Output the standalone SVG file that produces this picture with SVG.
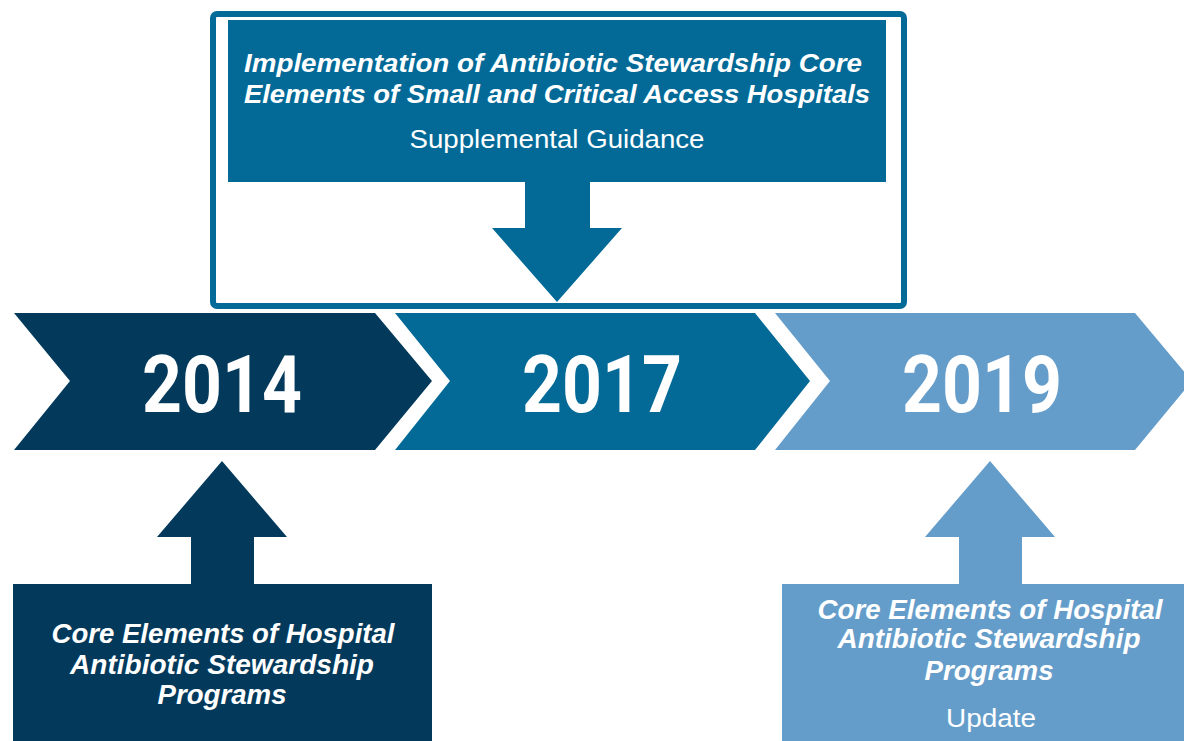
<svg xmlns="http://www.w3.org/2000/svg" width="1184" height="741" viewBox="0 0 1184 741">
  <style>
    .year { font-family: Roboto, "Liberation Sans", sans-serif; font-weight: 700; font-size: 80px; fill: #ffffff; text-anchor: middle; }
    .title { font-family: "Liberation Sans", Arial, sans-serif; font-weight: 700; font-style: italic; font-size: 26px; fill: #ffffff; text-anchor: middle; }
    .title-lg { font-family: "Liberation Sans", Arial, sans-serif; font-weight: 700; font-style: italic; font-size: 27.5px; fill: #ffffff; text-anchor: middle; }
    .sub { font-family: "Liberation Sans", Arial, sans-serif; font-size: 25px; fill: #ffffff; text-anchor: middle; }
    .navy { fill: #033a5c; }
    .mid { fill: #036a98; }
    .light { fill: #659dca; }
  </style>
  <rect width="1184" height="741" fill="#ffffff"/>

  <!-- timeline chevrons -->
  <g id="chevron-2014">
    <polygon class="navy" points="14,313 375,313 432,381 375,450 14,450 70,381"/>
    <text class="year" x="222" y="412" textLength="160" lengthAdjust="spacingAndGlyphs">2014</text>
  </g>
  <g id="chevron-2017">
    <polygon class="mid" points="395,313 755,313 810,381 755,450 395,450 450,381"/>
    <text class="year" x="602" y="412" textLength="160" lengthAdjust="spacingAndGlyphs">2017</text>
  </g>
  <g id="chevron-2019">
    <polygon class="light" points="775,313 1135,313 1192,381 1135,450 775,450 830,381"/>
    <text class="year" x="982" y="412" textLength="160" lengthAdjust="spacingAndGlyphs">2019</text>
  </g>

  <!-- 2017 supplemental guidance callout -->
  <g id="callout-2017">
    <rect x="213" y="14" width="691" height="292" rx="4" fill="none" stroke="#046a98" stroke-width="6"/>
    <rect class="mid" x="228" y="20" width="658" height="162"/>
    <text class="title" x="553" y="72" textLength="618" lengthAdjust="spacingAndGlyphs">Implementation of Antibiotic Stewardship Core</text>
    <text class="title" x="557" y="103" textLength="626" lengthAdjust="spacingAndGlyphs">Elements of Small and Critical Access Hospitals</text>
    <text class="sub" x="557" y="148" textLength="295" lengthAdjust="spacingAndGlyphs">Supplemental Guidance</text>
  </g>

  <!-- 2014 core elements box -->
  <g id="box-2014">
    <rect class="navy" x="13" y="584" width="419" height="157"/>
    <text class="title-lg" x="223" y="643" textLength="343" lengthAdjust="spacingAndGlyphs">Core Elements of Hospital</text>
    <text class="title-lg" x="222" y="674" textLength="304" lengthAdjust="spacingAndGlyphs">Antibiotic Stewardship</text>
    <text class="title-lg" x="222" y="704" textLength="129" lengthAdjust="spacingAndGlyphs">Programs</text>
  </g>

  <!-- 2019 update box -->
  <g id="box-2019">
    <rect class="light" x="782" y="584" width="402" height="157"/>
    <text class="title-lg" x="990" y="619" textLength="345" lengthAdjust="spacingAndGlyphs">Core Elements of Hospital</text>
    <text class="title-lg" x="989" y="648" textLength="303" lengthAdjust="spacingAndGlyphs">Antibiotic Stewardship</text>
    <text class="title-lg" x="989" y="680" textLength="129" lengthAdjust="spacingAndGlyphs">Programs</text>
    <text class="sub" x="991" y="727" font-size="28" textLength="90" lengthAdjust="spacingAndGlyphs">Update</text>
  </g>

  <!-- block arrows linking boxes to the timeline -->
  <g id="connectors">
    <polygon class="mid" points="525,181 590,181 590,228 622,228 557,302 492,228 525,228"/>
    <polygon class="navy" points="191,585 254,585 254,537 287,537 222,461 157,537 191,537"/>
    <polygon class="light" points="959,585 1022,585 1022,537 1055,537 990,461 925,537 959,537"/>
  </g>
</svg>
